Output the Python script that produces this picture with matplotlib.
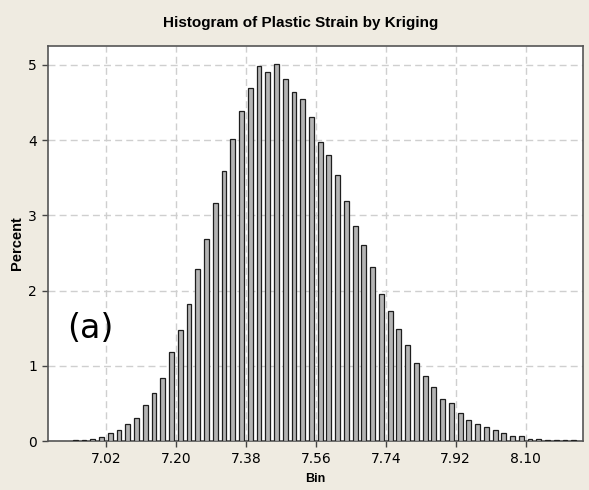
import numpy as np
import matplotlib
matplotlib.use('Agg')
import matplotlib.pyplot as plt

# histogram bins: first bin starts at 6.93, each bin 0.0225 wide
bin_start = 6.93
bin_width = 0.0225
percent = [0.01, 0.01, 0.03, 0.05, 0.10, 0.14, 0.23, 0.30, 0.48, 0.64,
           0.84, 1.18, 1.48, 1.82, 2.29, 2.68, 3.16, 3.59, 4.01, 4.39,
           4.69, 4.98, 4.91, 5.01, 4.81, 4.64, 4.55, 4.31, 3.98, 3.80,
           3.53, 3.19, 2.86, 2.60, 2.31, 1.96, 1.73, 1.49, 1.28, 1.04,
           0.87, 0.72, 0.56, 0.50, 0.37, 0.28, 0.22, 0.19, 0.14, 0.10,
           0.07, 0.07, 0.03, 0.03, 0.01, 0.01, 0.01, 0.01]
xticks = [7.02, 7.20, 7.38, 7.56, 7.74, 7.92, 8.10]
yticks = [0, 1, 2, 3, 4, 5]

mids = bin_start + bin_width * (np.arange(len(percent)) + 0.5)

fig = plt.figure(figsize=(5.89, 4.90), dpi=100, facecolor='#efebe1')
ax = fig.add_axes([0.0815, 0.1, 0.908, 0.806])
ax.set_facecolor('white')

ax.bar(mids, percent, width=0.0125, color='#b4b4b4', edgecolor='#1e1e1e',
       linewidth=0.9, zorder=3)

ax.set_xlim(6.871, 8.247)
ax.set_ylim(0, 5.25)
ax.set_xticks(xticks)
ax.set_xticklabels(['%.2f' % t for t in xticks])
ax.set_yticks(yticks)
ax.grid(True, color='#cfcfcf', linestyle=(0, (5, 3)), linewidth=1, zorder=0)
ax.tick_params(direction='out', length=4, width=1, color='#444444',
               labelsize=10, pad=4)
for s in ax.spines.values():
    s.set_color('#555555')
    s.set_linewidth(1.2)

label_font = ['Liberation Sans', 'DejaVu Sans']
ax.set_title('Histogram of Plastic Strain by Kriging', fontsize=11,
             fontweight='bold', family=label_font, pad=14, x=0.473)
ax.set_xlabel('Bin', fontsize=9, fontweight='bold', family=label_font, labelpad=5)
ax.set_ylabel('Percent', fontsize=10.5, fontweight='bold', family=label_font,
              labelpad=3)

ax.text(0.08, 0.284, '(a)', transform=ax.transAxes, fontsize=24,
        ha='center', va='center', zorder=5)

fig.savefig('out.png', dpi=100, facecolor=fig.get_facecolor())
